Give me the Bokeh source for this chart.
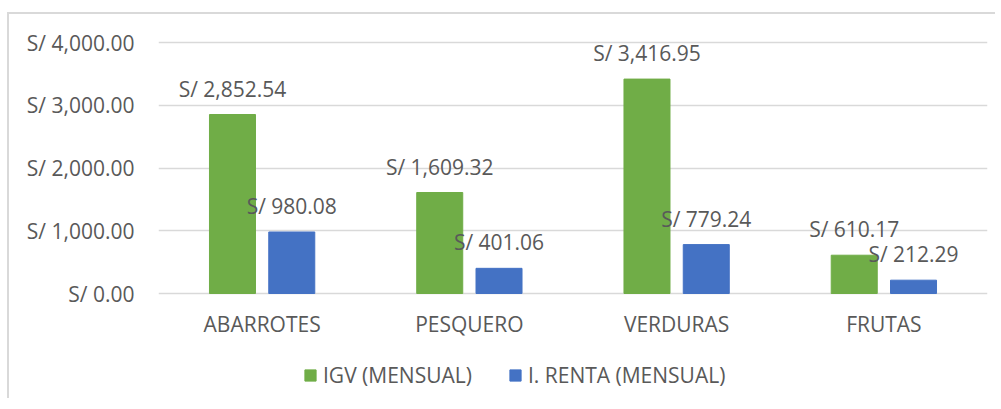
from bokeh.plotting import figure
from bokeh.models import ColumnDataSource, FactorRange, Range1d, FixedTicker, Legend, LegendItem
from bokeh.transform import dodge
from bokeh.core.properties import value
from bokeh.embed import file_html
from bokeh.resources import INLINE

categories = ["ABARROTES", "PESQUERO", "VERDURAS", "FRUTAS"]
igv_values = [2852.54, 1609.32, 3416.95, 610.17]
renta_values = [980.08, 401.06, 779.24, 212.29]
series_names = ["IGV (MENSUAL)", "I. RENTA (MENSUAL)"]
y_ticks = [0, 1000, 2000, 3000, 4000]
y_tick_labels = ["S/ 0.00", "S/ 1,000.00", "S/ 2,000.00", "S/ 3,000.00", "S/ 4,000.00"]

FONT = "Open Sans"
TEXT = "#595959"
GREEN = "#70ad47"
BLUE = "#4472c4"
GRID = "#d9d9d9"
FS = "21px"

# layout: plot frame spans page y 20..398 ; value 0 at y 293, 4000 at y 42
PX_PER_UNIT = (293 - 42) / 4000.0
Y_TOP = (293 - 20) / PX_PER_UNIT
Y_BOTTOM = (293 - 398) / PX_PER_UNIT

src = ColumnDataSource(dict(
    cat=categories,
    igv=igv_values,
    renta=renta_values,
    igv_lbl=[f"S/ {v:,.2f}" for v in igv_values],
    renta_lbl=[f"S/ {v:,.2f}" for v in renta_values],
))

p = figure(
    x_range=FactorRange(*categories, range_padding=0),
    y_range=Range1d(Y_BOTTOM, Y_TOP),
    width=988, height=386,
    min_border_left=149, min_border_right=10,
    min_border_top=6, min_border_bottom=2,
    output_backend="svg", toolbar_location=None,
)
p.styles = {
    "border-top": f"2px solid {GRID}",
    "border-left": f"2px solid {GRID}",
    "position": "relative",
    "top": "12px",
    "left": "7px",
}
p.outline_line_color = None
p.background_fill_color = "white"
p.border_fill_color = "white"

p.xgrid.grid_line_color = None
p.ygrid.grid_line_color = GRID
p.ygrid.grid_line_width = 1.5

p.yaxis.ticker = FixedTicker(ticks=y_ticks)
p.yaxis.major_label_overrides = {t: l for t, l in zip(y_ticks, y_tick_labels)}
for ax in (p.xaxis, p.yaxis):
    ax.axis_line_color = None
    ax.major_tick_line_color = None
    ax.minor_tick_line_color = None
    ax.major_label_text_font = FONT
    ax.major_label_text_font_size = FS
    ax.major_label_text_color = TEXT
p.yaxis.major_label_standoff = 18
p.xaxis.fixed_location = 0
p.xaxis.major_label_standoff = 10

off = 0.143
bw = 0.222
r1 = p.vbar(x=dodge("cat", -off, range=p.x_range), top="igv", width=bw, source=src,
            fill_color=GREEN, line_color=GREEN)
r2 = p.vbar(x=dodge("cat", off, range=p.x_range), top="renta", width=bw, source=src,
            fill_color=BLUE, line_color=BLUE)

for col, lbl, o in (("igv", "igv_lbl", -off), ("renta", "renta_lbl", off)):
    p.text(x=dodge("cat", o, range=p.x_range), y=col, text=lbl, source=src,
           text_align="center", text_baseline="alphabetic", y_offset=-26,
           text_font=value(FONT), text_font_size=FS, text_color=TEXT)

legend = Legend(
    items=[LegendItem(label=series_names[0], renderers=[r1]),
           LegendItem(label=series_names[1], renderers=[r2])],
    orientation="horizontal",
    location=(145, 9),
    glyph_width=14, glyph_height=14, label_height=22,
    label_standoff=6, spacing=36, padding=0, margin=0,
    border_line_color=None, background_fill_alpha=0,
    label_text_font=FONT, label_text_font_size=FS, label_text_color=TEXT,
)
p.add_layout(legend)

open("out.html", "w").write(file_html(p, INLINE))
